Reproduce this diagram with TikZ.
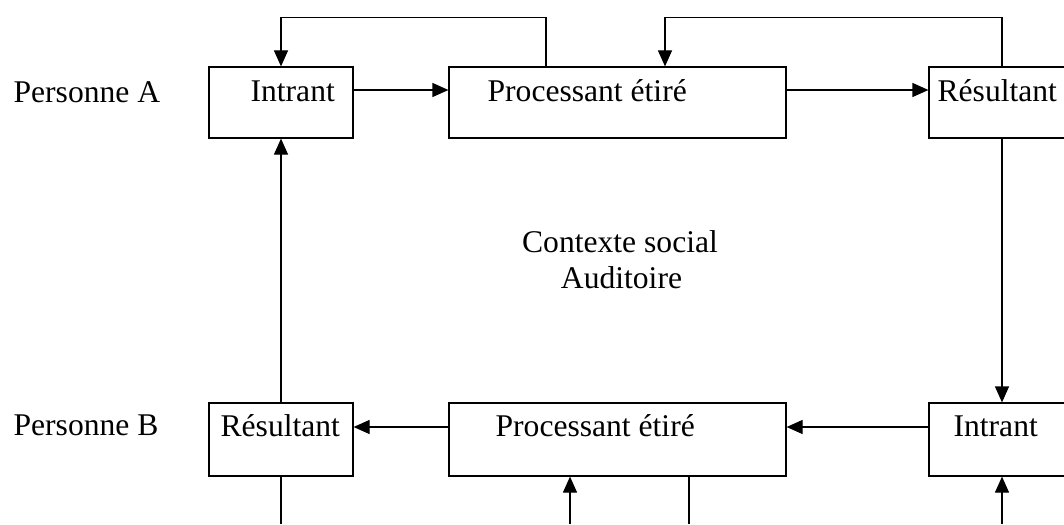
\documentclass[tikz,border=0pt]{standalone}
\usepackage{fontspec}
\setmainfont{Liberation Serif}
\newfontfamily\tnr{Liberation Serif}
\usetikzlibrary{arrows.meta,positioning,calc}

\begin{document}
\begin{tikzpicture}[x=0.5pt,y=-0.5pt,>={Triangle[length=8pt,width=7pt]},
   font=\tnr\fontsize{15.8pt}{18pt}\selectfont,line width=0.6pt,
   bx/.style={rectangle,draw,inner sep=0pt,minimum height=35.5pt},
   bxb/.style={bx,minimum height=36.5pt},
   tx/.style={anchor=base west,inner sep=0pt}]
  \useasboundingbox (0,0) rectangle (1064,524);
  \clip (0,0) rectangle (1064,524);
  \coordinate (bot) at (0,524);
  % personne A
  \node[tx] (pera) at (13,103) {Personne A};
  \node[bx,minimum width=72pt] (ia) at (281,102.5) {};
  \node[bx,minimum width=168.5pt] (pa) at (617.5,102.5) {};
  \node[bx,minimum width=73pt] (ra) at (1002,102.5) {};
  \node[tx] (tia) at (250,102) {Intrant};
  \node[tx] (tpa) at (487,102) {Processant étiré};
  \node[tx] (tra) at (937,102) {Résultant};
  % personne B
  \node[tx] (perb) at (13,435) {Personne B};
  \node[bxb,minimum width=72pt] (rb) at (281,439.5) {};
  \node[bxb,minimum width=168.5pt] (pb) at (617.5,439.5) {};
  \node[bxb,minimum width=73pt] (ib) at (1002,439.5) {};
  \node[tx] (trb) at (220,436) {Résultant};
  \node[tx] (tpb) at (495,436) {Processant étiré};
  \node[tx] (tib) at (953,436) {Intrant};
  % contexte
  \node[anchor=base,inner sep=0pt] (ctx) at (620,252) {Contexte social};
  \node[anchor=base,inner sep=0pt] (aud) at (621.5,288) {Auditoire};
  % fleches
  \draw[->] ([yshift=6.25pt]ia.east) -- ([yshift=6.25pt]pa.west);
  \draw[->] ([yshift=6.25pt]pa.east) -- ([yshift=6.25pt]ra.west);
  \draw[->] ([yshift=6.25pt]pb.west) -- ([yshift=6.25pt]rb.east);
  \draw[->] ([yshift=6.25pt]ib.west) -- ([yshift=6.25pt]pb.east);
  \draw[->] ([xshift=-35.75pt]pa.north) -- ++(0,-49) -| (ia.north);
  \draw[->] (ra.north) -- ++(0,-49) -| ([xshift=23.75pt]pa.north);
  \draw[->] (ra.south) -- (ib.north);
  \draw[->] (rb.north) -- (ia.south);
  \draw (rb.south) -- (rb.south |- bot);
  \draw[->] ([xshift=-23.75pt]pb.south |- bot) -- ([xshift=-23.75pt]pb.south);
  \draw ([xshift=35.75pt]pb.south) -- ([xshift=35.75pt]pb.south |- bot);
  \draw[->] (ib.south |- bot) -- (ib.south);
\end{tikzpicture}
\end{document}
